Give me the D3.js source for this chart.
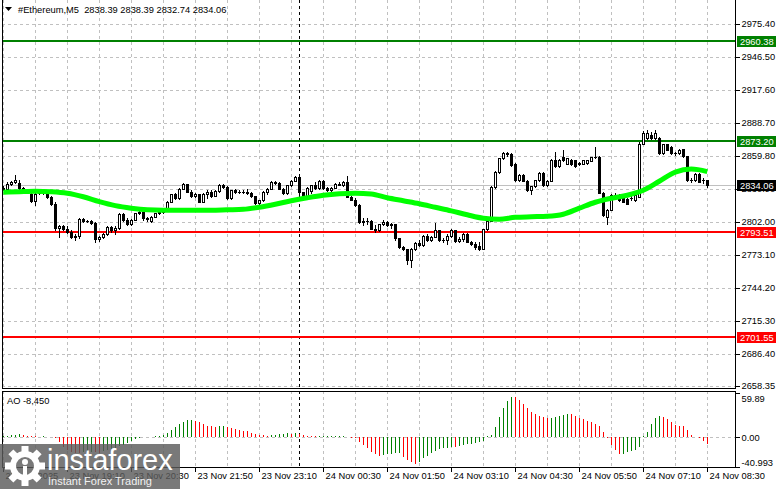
<!DOCTYPE html>
<html>
<head>
<meta charset="utf-8">
<script src="https://cdn.jsdelivr.net/npm/d3@7"></script>
<style>
  body { margin: 0; background: #fff; }
  svg { display: block; font-family: "Liberation Sans", Arial, sans-serif; }
</style>
</head>
<body>
<svg id="chart" width="781" height="489"></svg>
<script>
// ETHEREUM M5, 23 Nov 17:50 .. 24 Nov 08:30 (177 bars), [open, high, low, close]
const ohlc = [
  [2832,2833.5,2829.5,2830.5],[2830.5,2836.5,2830,2835.5],[2835.5,2838,2834.5,2837],[2837,2843,2836,2838.5],
  [2836,2838.5,2831,2831.5],[2831.5,2832.5,2828.5,2829.5],[2829.5,2831,2827,2828],[2826,2828,2819,2820],
  [2820,2827.5,2816.5,2826.8],[2827,2829.5,2826,2828.5],[2828.5,2830,2826.5,2827.5],[2827.5,2828.5,2823,2824],
  [2824,2825,2817,2818],[2818,2819,2795,2796.5],[2796.5,2799,2788.5,2798],[2798,2799.5,2795,2796],
  [2796,2798.5,2792.5,2793.5],[2793.5,2795,2787.5,2789],[2789,2791,2786.5,2789.5],[2789.5,2805.5,2788,2804.5],
  [2804.5,2805,2801.5,2803],[2803,2804,2801.5,2802.5],[2802.5,2803.5,2800,2801],[2801,2801.5,2784.5,2787],
  [2787,2790,2785.5,2789],[2789,2792.5,2788,2791.5],[2791.5,2798.5,2790.5,2797.5],[2797.5,2798,2793,2794.5],
  [2794.5,2798,2791,2797],[2797,2810,2795.5,2809],[2809,2810,2803,2804],[2804,2805,2799.5,2800.5],
  [2800.5,2804.5,2799.5,2804],[2804,2810,2803.5,2809.5],[2809.5,2812,2808.5,2811],[2811,2812,2804,2805],
  [2805,2806.5,2803,2804.5],[2803,2807,2802,2806.5],[2806.5,2810,2806,2809.5],[2809.5,2812,2808.5,2811],
  [2811,2813.5,2810,2812.5],[2812.5,2820,2812,2819.5],[2819.5,2826.5,2819,2826],[2826,2827,2822,2823],
  [2823,2831.5,2822,2831],[2831,2836,2830.5,2835],[2835,2835.5,2828,2828.5],[2828.5,2830,2823.5,2824.5],
  [2824.5,2827.5,2824,2826.5],[2826,2826.5,2819,2819.5],[2819.5,2827.5,2819,2826.5],[2826.5,2829.5,2823,2828.5],
  [2828.5,2829.5,2824,2825],[2825,2829.5,2824.5,2829],[2829,2835,2828,2834],[2834.5,2835,2832,2832.5],
  [2832.5,2833,2822,2822.5],[2822.5,2830,2822,2829.5],[2829.5,2830.5,2827.5,2828.5],[2828.5,2829.5,2827.5,2828],
  [2828,2829.5,2827,2828.5],[2828.5,2830.5,2826,2827],[2827,2828.5,2823.5,2824.5],[2824.5,2825,2817.5,2818.5],
  [2818.5,2821.5,2816,2821],[2821,2829,2820.5,2828],[2828,2831.5,2826.5,2831],[2831,2837.5,2830.5,2837],
  [2837,2838,2835,2836],[2836,2836.5,2830.5,2831],[2831,2831.5,2826,2827],[2827,2834.5,2826,2834],
  [2834,2838.5,2833.5,2838],[2838,2842,2837.5,2841.5],[2841.5,2843,2824,2828],[2828,2828.5,2823.5,2824.5],
  [2824.5,2832.5,2824,2832],[2829,2834.5,2827.5,2834],[2834,2836.5,2831,2831.5],[2831.5,2838.5,2831,2838],
  [2838,2838.5,2831,2831.5],[2831.5,2832.5,2829,2829.5],[2829.5,2832.5,2828,2832],[2832,2836,2831.5,2835.5],
  [2835.5,2836.5,2834,2834.5],[2834.5,2837.5,2833,2837],[2837,2842,2823.5,2824],[2824,2825,2821,2821.5],
  [2821.5,2822.5,2815.5,2816.5],[2816.5,2817.5,2801,2802],[2802,2805,2799.5,2803],[2803,2805,2800.5,2803],
  [2803,2804,2795.5,2796],[2796,2799.5,2793,2795],[2795,2800.5,2794,2800],[2800,2804,2799.5,2801.5],
  [2801.5,2802.5,2798.5,2799.5],[2799,2801,2797,2800],[2800,2800.5,2786.5,2787.5],[2787.5,2788,2779.5,2780],
  [2780,2780.5,2777,2778],[2778,2778.5,2765.5,2768.5],[2768.5,2779,2762.5,2778.5],[2778.5,2784,2777.5,2783.5],
  [2783.5,2786,2780.5,2781.5],[2781.5,2790.5,2781,2790],[2790,2791,2785.5,2786],[2786,2790,2785.5,2789],
  [2789,2801,2788.5,2794.5],[2794.5,2795,2785.5,2786],[2786,2787.5,2784.5,2786],[2786,2791,2782.5,2790],
  [2790,2795.5,2789,2794.5],[2794.5,2795,2784,2785],[2785,2788.5,2784.5,2787],[2787,2792.5,2785.5,2791.5],
  [2791.5,2792,2784,2784.5],[2784.5,2785,2782,2782.5],[2782.5,2784.5,2778.5,2780],[2780.5,2784,2777,2778.5],
  [2778.5,2796,2778,2795.5],[2795.5,2804,2795,2803],[2803,2833.5,2802.5,2832.5],[2832.5,2846.5,2832,2845.5],
  [2845.5,2858,2845,2857.5],[2857.5,2863.5,2857,2862],[2862,2863,2860,2861],[2861.5,2862.5,2851,2851.5],
  [2853,2853.5,2838,2838.5],[2838.5,2843.5,2837.5,2843],[2843,2843.5,2837.5,2838],[2838,2838.5,2829,2829.5],
  [2829.5,2833.5,2826,2833],[2833,2839,2832.5,2838.5],[2838.5,2845.5,2838,2845],[2845,2845.5,2833.5,2834],
  [2834,2838.5,2833,2838],[2838,2857,2837.5,2856.5],[2856.5,2863.5,2850,2850.5],[2850.5,2857,2850,2856.5],
  [2858.5,2865,2855.5,2856],[2853,2858,2852.5,2857.5],[2856.5,2857,2852,2852.5],[2856,2856.5,2850,2850.5],
  [2853,2854.5,2851.5,2853.2],[2853,2856.5,2852.5,2856],[2853.5,2856.5,2853,2856],[2855.5,2859,2855,2858.5],
  [2858.5,2867.5,2858,2859],[2859,2859.5,2827,2827.5],[2827.5,2828,2807.5,2808],[2806.5,2813,2800.5,2812.2],
  [2812.2,2826,2812,2825.3],[2825.3,2827,2823.5,2825.5],[2825.5,2826,2820.5,2821],[2824,2824.5,2819,2819.5],
  [2822.4,2823,2817.5,2818],[2823,2825,2821.5,2823.3],[2821,2826,2820.5,2825.3],[2824,2872,2823.5,2870.6],
  [2870.6,2882,2870,2879.4],[2875,2882.3,2874.5,2879.4],[2878,2881,2874.5,2875],[2875,2882.3,2874.5,2879.4],
  [2875,2876,2861.5,2862],[2862,2870.5,2861.5,2870],[2870,2870.5,2864.5,2865],[2867.5,2868,2861.5,2862],
  [2862,2863.5,2860.5,2862.1],[2862,2865.5,2861.5,2864.8],[2865.4,2866,2859,2859.5],[2859.5,2860,2838,2838.5],
  [2838.5,2840,2837,2838.8],[2838.5,2844.8,2838,2844.3],[2844.3,2845,2836.5,2837],[2838.5,2840,2836,2838.4],
  [2838.39,2838.39,2832.74,2834.06]
];

// moving average, read every 4th bar
const maStep = 4;
const maValues = [
  2827.9, 2828.4, 2828.8, 2828.4, 2827.1, 2824.0, 2819.7, 2816.2, 2814.0, 2812.6,
  2812.2, 2812.2, 2812.2, 2812.2, 2812.6, 2813.0, 2814.8, 2817.4, 2820.5, 2823.1,
  2825.3, 2826.6, 2827.1, 2826.4, 2823.1, 2820.5, 2817.9, 2814.8, 2811.7, 2808.2,
  2805.2, 2804.3, 2806.0, 2806.5, 2806.9, 2808.7, 2814.0, 2819.2, 2822.7, 2825.3,
  2829.7, 2837.6, 2845.6, 2848.2, 2846.0
];

// Awesome Oscillator, one value per bar
const aoValues = [
  1.8, 2.3, 3.2, 3.6, 4.1, 3.2, 2.3, 1.8, 1.4, 1.0,
  1.2, 0.8, 0.3, -1.5, -7, -13, -17, -19.5, -21, -21.5,
  -20.5, -20, -19.5, -20.5, -21, -19, -17.5, -16, -14, -12,
  -10, -7.5, -4.5, -2.5, -1, 0.5, 0.8, 1, 1.2, 1.8,
  3, 6, 10, 14, 18, 21, 23, 23.6, 22.8, 20.5,
  18, 16, 15, 14.2, 15, 15.5, 14, 13, 11.5, 10,
  9, 8, 6.5, 5, 3.8, 2.8, 2.3, 2.5, 3.2, 4.2,
  5, 5.4, 5, 5.5, 4, 3, 2, 1.5, 1.2, 1.3,
  1.4, 1.5, 1.6, 1.7, 1.8, 1.9, 1.0,
  -0.5, -1.5, -5.9, -10.4, -15, -19.5, -22.7, -25, -24, -23.2,
  -22.7, -21.8, -20.9, -26.3, -30.9, -34, -36.3, -34, -28.6, -25,
  -21.8, -18.6, -16.4, -15, -14.1, -13.2, -13.6, -11.4, -10.4, -9.5,
  -9.1, -8.2, -6.8, -4.5, 2.3, 3.2, 14.5, 28.2, 39.5, 49.5,
  54.5, 54.4, 50.9, 45.4, 39.5, 35, 31.3, 29.1, 27.3, 25.9,
  26.3, 27.7, 29.1, 30.4, 31.8, 31.3, 29.1, 26.8, 24.5, 22.3,
  20.4, 18.2, 15.9, 7.7, -0.5, -10.4, -17.3, -23.2, -22.3, -19.5,
  -18.6, -17.3, -12.7, 1.5, 7.7, 17.7, 25.9, 29.5, 28.2, 25,
  20.4, 16.8, 15.9, 15, 10, 3.2, 0.9, -1.4, -4.5, -8.45
];

const priceTicks = [2975.40, 2946.50, 2917.60, 2888.70, 2859.80, 2830.90, 2802.00, 2773.10, 2744.20, 2715.30, 2686.40, 2658.35];
const aoTicks = [59.89, 0, -40.993];
const greenLevels = [2960.38, 2873.20];
const redLevels = [2793.51, 2701.55];
const lastPrice = 2834.06;
const timeTickIdx = [0, 16, 32, 48, 64, 80, 96, 112, 128, 144, 160, 176];
const timeLabels = ["23 Nov 2025", "23 Nov 19:10", "23 Nov 20:30", "23 Nov 21:50", "23 Nov 23:10", "24 Nov 00:30",
  "24 Nov 01:50", "24 Nov 03:10", "24 Nov 04:30", "24 Nov 05:50", "24 Nov 07:10", "24 Nov 08:30"];
const daySplitIdx = 74; // 24 Nov 00:00
const title = "#Ethereum,M5  2838.39 2838.39 2832.74 2834.06";
const aoTitle = "AO -8,450";

// ---- layout
const svg = d3.select("#chart");
const left = 2, right = 735;
const mainTop = 0, mainBot = 388, aoTop = 391, aoBot = 467;
const fs = 9.3;

const x = d3.scaleLinear().domain([0, 176]).range([3.3, 707.3]);
const y = d3.scaleLinear().domain([2658.35, 2975.40]).range([386, 23.8]);
const yAo = d3.scaleLinear().domain([-40.993, 59.89]).range([467.4, 393.4]);
const cx = (i) => Math.round(x(i));
const py = (v) => Math.round(y(v));

svg.append("defs").append("clipPath").attr("id", "clipMain")
  .append("rect").attr("x", left).attr("y", mainTop).attr("width", right - left).attr("height", mainBot - mainTop);

const grid = svg.append("g").attr("stroke", "#c0c0c0").attr("stroke-dasharray", "3,3").attr("shape-rendering", "crispEdges");
// horizontal grid
grid.selectAll("line.h").data(priceTicks).join("line")
  .attr("x1", left).attr("x2", right).attr("y1", (d) => py(d) + 0.5).attr("y2", (d) => py(d) + 0.5);
grid.append("line").attr("x1", left).attr("x2", right)
  .attr("y1", Math.round(yAo(0)) + 0.5).attr("y2", Math.round(yAo(0)) + 0.5);
// vertical grid in both panels
const vIdx = d3.range(0, 177, 8);
[[mainTop, mainBot], [aoTop, aoBot]].forEach(([a, b]) => {
  grid.append("g").selectAll("line").data(vIdx).join("line")
    .attr("x1", (d) => cx(d) + 0.5).attr("x2", (d) => cx(d) + 0.5).attr("y1", a).attr("y2", b);
});
// day separator
[[mainTop, mainBot], [aoTop, aoBot]].forEach(([a, b]) => {
  svg.append("line").attr("x1", cx(daySplitIdx) + 0.5).attr("x2", cx(daySplitIdx) + 0.5)
    .attr("y1", a).attr("y2", b).attr("stroke", "#000").attr("stroke-dasharray", "3,3")
    .attr("shape-rendering", "crispEdges");
});

const main = svg.append("g").attr("clip-path", "url(#clipMain)");

// last price line
main.append("line").attr("x1", left).attr("x2", right)
  .attr("y1", py(lastPrice) + 0.5).attr("y2", py(lastPrice) + 0.5)
  .attr("stroke", "#c0c0c0").attr("shape-rendering", "crispEdges");

// level lines
main.selectAll("line.lvl").data([...greenLevels.map((v) => [v, "#008000"]), ...redLevels.map((v) => [v, "#ff0000"])])
  .join("line").attr("x1", left).attr("x2", right)
  .attr("y1", (d) => py(d[0])).attr("y2", (d) => py(d[0]))
  .attr("stroke", (d) => d[1]).attr("stroke-width", 2).attr("shape-rendering", "crispEdges");

// candles
const bars = main.append("g").attr("shape-rendering", "crispEdges")
  .selectAll("g").data(ohlc).join("g");
bars.append("line")
  .attr("x1", (d, i) => cx(i) + 0.5).attr("x2", (d, i) => cx(i) + 0.5)
  .attr("y1", (d) => py(d[1])).attr("y2", (d) => py(d[2]) + 1)
  .attr("stroke", "#000");
bars.each(function (d, i) {
  const top = py(Math.max(d[0], d[3])), bot = py(Math.min(d[0], d[3]));
  const g = d3.select(this);
  if (bot - top < 1) {
    g.append("line").attr("x1", cx(i) - 1).attr("x2", cx(i) + 2)
      .attr("y1", top + 0.5).attr("y2", top + 0.5).attr("stroke", "#000");
  } else {
    g.append("rect").attr("x", cx(i) - 0.5).attr("y", top + 0.5)
      .attr("width", 2).attr("height", bot - top)
      .attr("fill", d[3] >= d[0] ? "#fff" : "#000").attr("stroke", "#000");
  }
});

// moving average
const ma = d3.line().x((d, k) => x(k * maStep)).y((d) => y(d)).curve(d3.curveMonotoneX);
main.append("path").datum(maValues).attr("d", ma)
  .attr("fill", "none").attr("stroke", "#00ff00").attr("stroke-width", 5).attr("stroke-linejoin", "round");

// AO histogram
svg.append("g").attr("shape-rendering", "crispEdges")
  .selectAll("line").data(aoValues).join("line")
  .attr("x1", (d, i) => cx(i) + 0.5).attr("x2", (d, i) => cx(i) + 0.5)
  .attr("y1", Math.round(yAo(0))).attr("y2", (d) => Math.round(yAo(d)))
  .attr("stroke", (d, i) => (i === 0 || d > aoValues[i - 1]) ? "#008000" : "#ff0000");

// frames
const frame = svg.append("g").attr("fill", "none").attr("stroke", "#000").attr("shape-rendering", "crispEdges");
frame.append("path").attr("d", `M${left + 0.5},${mainTop}V${mainBot + 0.5}H${right + 0.5}V${mainTop}`);
frame.append("rect").attr("x", left + 0.5).attr("y", aoTop + 0.5).attr("width", right - left).attr("height", aoBot - aoTop);

// price axis
const yAxis = svg.append("g").attr("transform", `translate(${right + 0.5},0)`)
  .call(d3.axisRight(y).tickValues(priceTicks).tickSize(4).tickPadding(2).tickFormat(d3.format(".2f")));
yAxis.select(".domain").remove();
yAxis.selectAll("text").attr("font-size", fs).attr("font-family", "Liberation Sans, Arial, sans-serif").attr("fill", "#000");
yAxis.selectAll("line").attr("shape-rendering", "crispEdges");

// AO axis
const aoAxis = svg.append("g").attr("transform", `translate(${right + 0.5},0)`)
  .call(d3.axisRight(yAo).tickValues(aoTicks).tickSize(4).tickPadding(2)
    .tickFormat((d) => d === 0 ? "0.00" : (d === -40.993 ? "-40.993" : d3.format(".2f")(d))));
aoAxis.select(".domain").remove();
aoAxis.selectAll("text").attr("font-size", fs).attr("font-family", "Liberation Sans, Arial, sans-serif").attr("fill", "#000")
  .attr("dy", (d) => d === 59.89 ? "0.85em" : (d === -40.993 ? "-0.25em" : "0.32em"));
aoAxis.selectAll("line").attr("shape-rendering", "crispEdges");

// level labels on the price axis
const tags = [...greenLevels.map((v) => [v, "#008000"]), ...redLevels.map((v) => [v, "#ff0000"]), [lastPrice, "#000"]];
const tagG = svg.append("g").selectAll("g").data(tags).join("g")
  .attr("transform", (d) => `translate(737,${py(d[0])})`);
tagG.append("rect").attr("x", 0).attr("y", -5).attr("width", 39).attr("height", 11).attr("fill", (d) => d[1]);
tagG.append("text").attr("x", 3).attr("y", 0.5).attr("dy", "0.35em").attr("font-size", fs).attr("fill", "#fff")
  .text((d) => d3.format(".2f")(d[0]));

// time axis
const tAxis = svg.append("g").attr("transform", `translate(0,${aoBot + 0.5})`)
  .call(d3.axisBottom(x).tickValues(timeTickIdx).tickSize(4).tickFormat((d, k) => timeLabels[k]));
tAxis.select(".domain").remove();
tAxis.selectAll(".tick").attr("transform", (d) => `translate(${cx(d) + 0.5},0)`);
tAxis.selectAll("line").attr("shape-rendering", "crispEdges");
tAxis.selectAll("text").attr("font-size", fs).attr("font-family", "Liberation Sans, Arial, sans-serif").attr("fill", "#000")
  .attr("text-anchor", "start").attr("x", 2).attr("y", 5);

// titles
svg.append("path").attr("d", "M5,7H12L8.5,11Z").attr("fill", "#000");
svg.append("text").attr("x", 18).attr("y", 10).attr("dy", "0.35em").attr("font-size", fs)
  .style("white-space", "pre").text(title);
svg.append("text").attr("x", 7).attr("y", 401).attr("dy", "0.35em").attr("font-size", fs).text(aoTitle);

// watermark
const wm = svg.append("g");
wm.append("rect").attr("x", 0).attr("y", 444).attr("width", 180).attr("height", 45).attr("fill", "#5c5c5c").attr("opacity", 0.82);
const gear = wm.append("g").attr("transform", "translate(25,466)").attr("fill", "#fff");
gear.selectAll("rect").data(d3.range(8)).join("rect")
  .attr("x", -3.5).attr("y", -20).attr("width", 7).attr("height", 8)
  .attr("transform", (d) => `rotate(${d * 45})`);
gear.append("path").attr("d", d3.arc()({ innerRadius: 9, outerRadius: 15, startAngle: 0, endAngle: 2 * Math.PI }));
gear.append("circle").attr("cx", 0).attr("cy", -4).attr("r", 3);
gear.append("rect").attr("x", -2).attr("y", 0).attr("width", 4).attr("height", 12);
wm.append("text").attr("x", 47).attr("y", 470).attr("font-size", 29).attr("fill", "#fff").text("instaforex");
wm.append("text").attr("x", 48).attr("y", 485).attr("font-size", 11).attr("fill", "#fff").attr("opacity", 0.9).text("Instant Forex Trading");
</script>
</body>
</html>
